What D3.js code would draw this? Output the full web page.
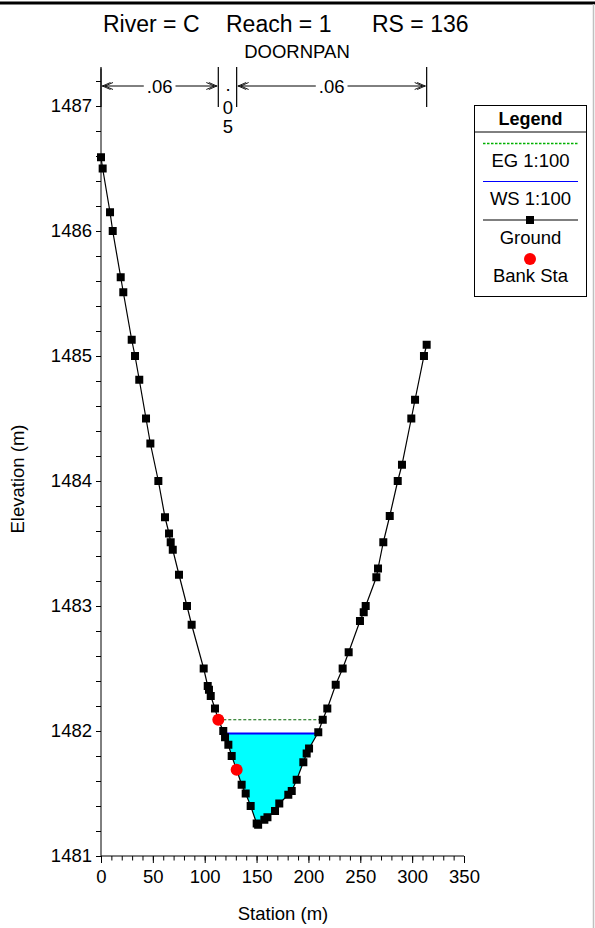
<!DOCTYPE html>
<html><head><meta charset="utf-8">
<script src="https://cdn.jsdelivr.net/npm/d3@7/dist/d3.min.js"></script>
<style>
html,body{margin:0;padding:0;background:#fff;}
svg{display:block;font-family:"Liberation Sans",Arial,sans-serif;}
</style></head>
<body>
<svg id="chart" width="595" height="928"></svg>
<script>
// ---- data ----
const groundStation = [0,1.6,8.7,11.3,19,21.5,29.6,32.8,36.9,43.4,47.6,55.3,61.7,65.6,67.2,69.2,75.2,82.9,87.4,99,102.9,104.1,105.8,109.9,113.1,117.9,119.6,122.8,126,130.8,135.6,139.5,144.3,150.1,151.5,157.5,160.5,167.8,171.9,180.6,183.9,188.7,195.1,198.3,200.6,209.5,213.8,218.2,226.3,233,238.8,249.7,253.3,255.2,265.5,267.1,272.2,278.4,286.1,290.2,299.2,302.8,311.4,314];
const groundElev = [1486.59,1486.50,1486.15,1486.0,1485.63,1485.51,1485.13,1485.0,1484.81,1484.50,1484.30,1484.0,1483.71,1483.58,1483.51,1483.45,1483.25,1483.0,1482.85,1482.50,1482.36,1482.33,1482.28,1482.18,1482.09,1482.0,1481.95,1481.89,1481.80,1481.69,1481.57,1481.50,1481.40,1481.26,1481.25,1481.29,1481.31,1481.36,1481.42,1481.49,1481.52,1481.61,1481.75,1481.82,1481.86,1481.99,1482.09,1482.18,1482.37,1482.50,1482.63,1482.88,1482.95,1483.0,1483.23,1483.30,1483.51,1483.72,1484.0,1484.13,1484.50,1484.65,1485.0,1485.09];
const bankStation = [113.1,130.8];
const bankElev = [1482.09,1481.69];
const wsElev = 1481.98;   // WS 1:100
const egElev = 1482.09;   // EG 1:100
const nBreaks = [0,113.1,130.8,314];
const nValues = [".06",".05",".06"];
const xTicks = [0,50,100,150,200,250,300,350];
const yTicks = [1481,1482,1483,1484,1485,1486,1487];
const legendItems = ["EG 1:100","WS 1:100","Ground","Bank Sta"];

// ---- layout ----
const svg = d3.select("#chart");
const x = d3.scaleLinear().domain([0,350]).range([101,464]);
const y = d3.scaleLinear().domain([1481,1487.3]).range([856,68.5]);
const ground = groundStation.map((s,i)=>({s, e:groundElev[i]}));

// frame
svg.append("rect").attr("x",0).attr("y",1.5).attr("width",595).attr("height",3).attr("fill","#000");
svg.append("line").attr("x1",593.5).attr("x2",593.5).attr("y1",4).attr("y2",928).attr("stroke","#c0c0c0").attr("stroke-width",1.5);

// title
const title = svg.append("g").attr("font-size",23).attr("fill","#000");
title.append("text").attr("x",103).attr("y",32).text("River = C");
title.append("text").attr("x",226).attr("y",32).text("Reach = 1");
title.append("text").attr("x",372).attr("y",32).text("RS = 136");
svg.append("text").attr("x",297).attr("y",58).attr("text-anchor","middle").attr("font-size",18.5).text("DOORNPAN");

// helper: intersections of ground with a level
function crossings(level){
  const out=[];
  for(let i=0;i<ground.length-1;i++){
    const a=ground[i], b=ground[i+1];
    const da=a.e-level, db=b.e-level;
    if(Math.abs(da)<1e-9){ out.push(a.s); continue; }
    if(da*db<0){
      const t=(level-a.e)/(b.e-a.e);
      out.push(a.s+t*(b.s-a.s));
    }
  }
  return out;
}

// water fill
const wsX = crossings(wsElev);
const wL = wsX[0], wR = wsX[wsX.length-1];
const poly = [{s:wL,e:wsElev}].concat(ground.filter(d=>d.s>wL && d.s<wR && d.e<wsElev)).concat([{s:wR,e:wsElev}]);
svg.append("path").datum(poly)
  .attr("d", d3.line().x(d=>x(d.s)).y(d=>y(d.e)).curve(d3.curveLinearClosed))
  .attr("fill","#00ffff").attr("stroke","none");
svg.append("line").attr("x1",x(wL)).attr("x2",x(wR)).attr("y1",y(wsElev)).attr("y2",y(wsElev))
  .attr("stroke","#0000ff").attr("stroke-width",2);

// EG
const egX = crossings(egElev);
const eL = egX[0], eR = egX[egX.length-1];
svg.append("line").attr("x1",x(eL)).attr("x2",x(eR)).attr("y1",y(egElev)).attr("y2",y(egElev))
  .attr("stroke","#006400").attr("stroke-width",1).attr("stroke-dasharray","3,2");

// ground
svg.append("path").datum(ground)
  .attr("d", d3.line().x(d=>x(d.s)).y(d=>y(d.e)))
  .attr("fill","none").attr("stroke","#000").attr("stroke-width",1.2);
svg.append("g").selectAll("rect").data(ground).join("rect")
  .attr("x",d=>x(d.s)-4).attr("y",d=>y(d.e)-4).attr("width",8).attr("height",8).attr("fill","#000");

// bank stations
svg.append("g").selectAll("circle").data(bankStation).join("circle")
  .attr("cx",d=>x(d)).attr("cy",(d,i)=>y(bankElev[i])).attr("r",6).attr("fill","#ff0000");

// axes
const xAxis = svg.append("g").attr("transform","translate(0,856)");
xAxis.call(d3.axisBottom(x).tickValues(d3.range(0,351,10)).tickSize(4.5).tickFormat(""));
xAxis.call(g=>g.selectAll(".tick line").attr("stroke","#000"));
const xMaj = svg.append("g").attr("transform","translate(0,856)")
  .call(d3.axisBottom(x).tickValues(xTicks).tickSize(7).tickPadding(6).tickFormat(d3.format("d")));
xMaj.select(".domain").remove();
xAxis.select(".domain").attr("d",`M${x(0)},0H${x(350)}`).attr("stroke","#000");
xMaj.selectAll("text").attr("font-size",18.5).attr("font-family","Liberation Sans, Arial").attr("fill","#000").attr("dy","0.78em");

const yAxis = svg.append("g").attr("transform","translate(101,0)");
yAxis.call(d3.axisLeft(y).tickValues(d3.range(0,32).map(i=>1481+i*0.2)).tickSize(5).tickFormat(""));
yAxis.select(".domain").attr("d",`M0,${y(1481)}V${y(1487.3)}`).attr("stroke","#000");
const yMaj = svg.append("g").attr("transform","translate(101,0)")
  .call(d3.axisLeft(y).tickValues(yTicks).tickSize(5).tickPadding(4).tickFormat(d3.format("d")));
yMaj.select(".domain").remove();
yMaj.selectAll("text").attr("font-size",18.5).attr("font-family","Liberation Sans, Arial").attr("fill","#000");

svg.append("text").attr("x",283).attr("y",920).attr("text-anchor","middle").attr("font-size",18.5).text("Station (m)");
svg.append("text").attr("transform","translate(24,479) rotate(-90)").attr("text-anchor","middle").attr("font-size",18.5).text("Elevation (m)");

// n-values
const nG = svg.append("g");
nBreaks.forEach(s=>{
  nG.append("line").attr("x1",x(s)).attr("x2",x(s)).attr("y1",67).attr("y2",107).attr("stroke","#000").attr("stroke-width",1.2);
});
function chevron(tipX, dir){ // dir -1 points left, +1 points right
  const p = d3.path();
  for(const off of [0,2.5]){
    const tx = tipX - dir*off;
    p.moveTo(tx - dir*8, 82.5); p.lineTo(tx, 86); p.lineTo(tx - dir*8, 89.5);
  }
  nG.append("path").attr("d",p.toString()).attr("fill","none").attr("stroke","#000").attr("stroke-width",0.9);
}
nValues.forEach((v,i)=>{
  const a = x(nBreaks[i])+1, b = x(nBreaks[i+1])-1, mid=(a+b)/2;
  if(b-a > 60){
    const t = nG.append("text").attr("x",mid).attr("y",92.5).attr("text-anchor","middle").attr("font-size",18.5).text(v);
    const w = t.node().getComputedTextLength();
    nG.append("line").attr("x1",a).attr("x2",mid-w/2-3).attr("y1",86).attr("y2",86).attr("stroke","#000");
    nG.append("line").attr("x1",mid+w/2+3).attr("x2",b).attr("y1",86).attr("y2",86).attr("stroke","#000");
    chevron(a+0.5,-1); chevron(b-0.5,1);
  } else {
    const chars = v.split("");
    const ys = [91,114,133];
    chars.forEach((c,j)=>nG.append("text").attr("x",mid+0.5).attr("y",ys[j]).attr("text-anchor","middle").attr("font-size",18.5).text(c));
  }
});

// legend
const L = svg.append("g");
L.append("rect").attr("x",474.5).attr("y",105.5).attr("width",112).attr("height",191).attr("fill","#fff").attr("stroke","#000").attr("stroke-width",1);
L.append("line").attr("x1",474.5).attr("x2",586.5).attr("y1",132).attr("y2",132).attr("stroke","#000");
L.append("text").attr("x",530.5).attr("y",124.5).attr("text-anchor","middle").attr("font-size",18).attr("font-weight","bold").text("Legend");
L.append("line").attr("x1",483).attr("x2",578).attr("y1",143.5).attr("y2",143.5).attr("stroke","#00b000").attr("stroke-width",1.5).attr("stroke-dasharray","2.5,1.5");
L.append("line").attr("x1",483).attr("x2",578).attr("y1",181.5).attr("y2",181.5).attr("stroke","#0000ff").attr("stroke-width",1.2);
L.append("line").attr("x1",483).attr("x2",578).attr("y1",220).attr("y2",220).attr("stroke","#000").attr("stroke-width",1.2);
L.append("rect").attr("x",526).attr("y",216).attr("width",8).attr("height",8).attr("fill","#000");
L.append("circle").attr("cx",530).attr("cy",259).attr("r",6).attr("fill","#ff0000");
const ly = [166.5,205,243.5,281.5];
legendItems.forEach((t,i)=>L.append("text").attr("x",530.5).attr("y",ly[i]).attr("text-anchor","middle").attr("font-size",18.5).text(t));
</script>
</body></html>
